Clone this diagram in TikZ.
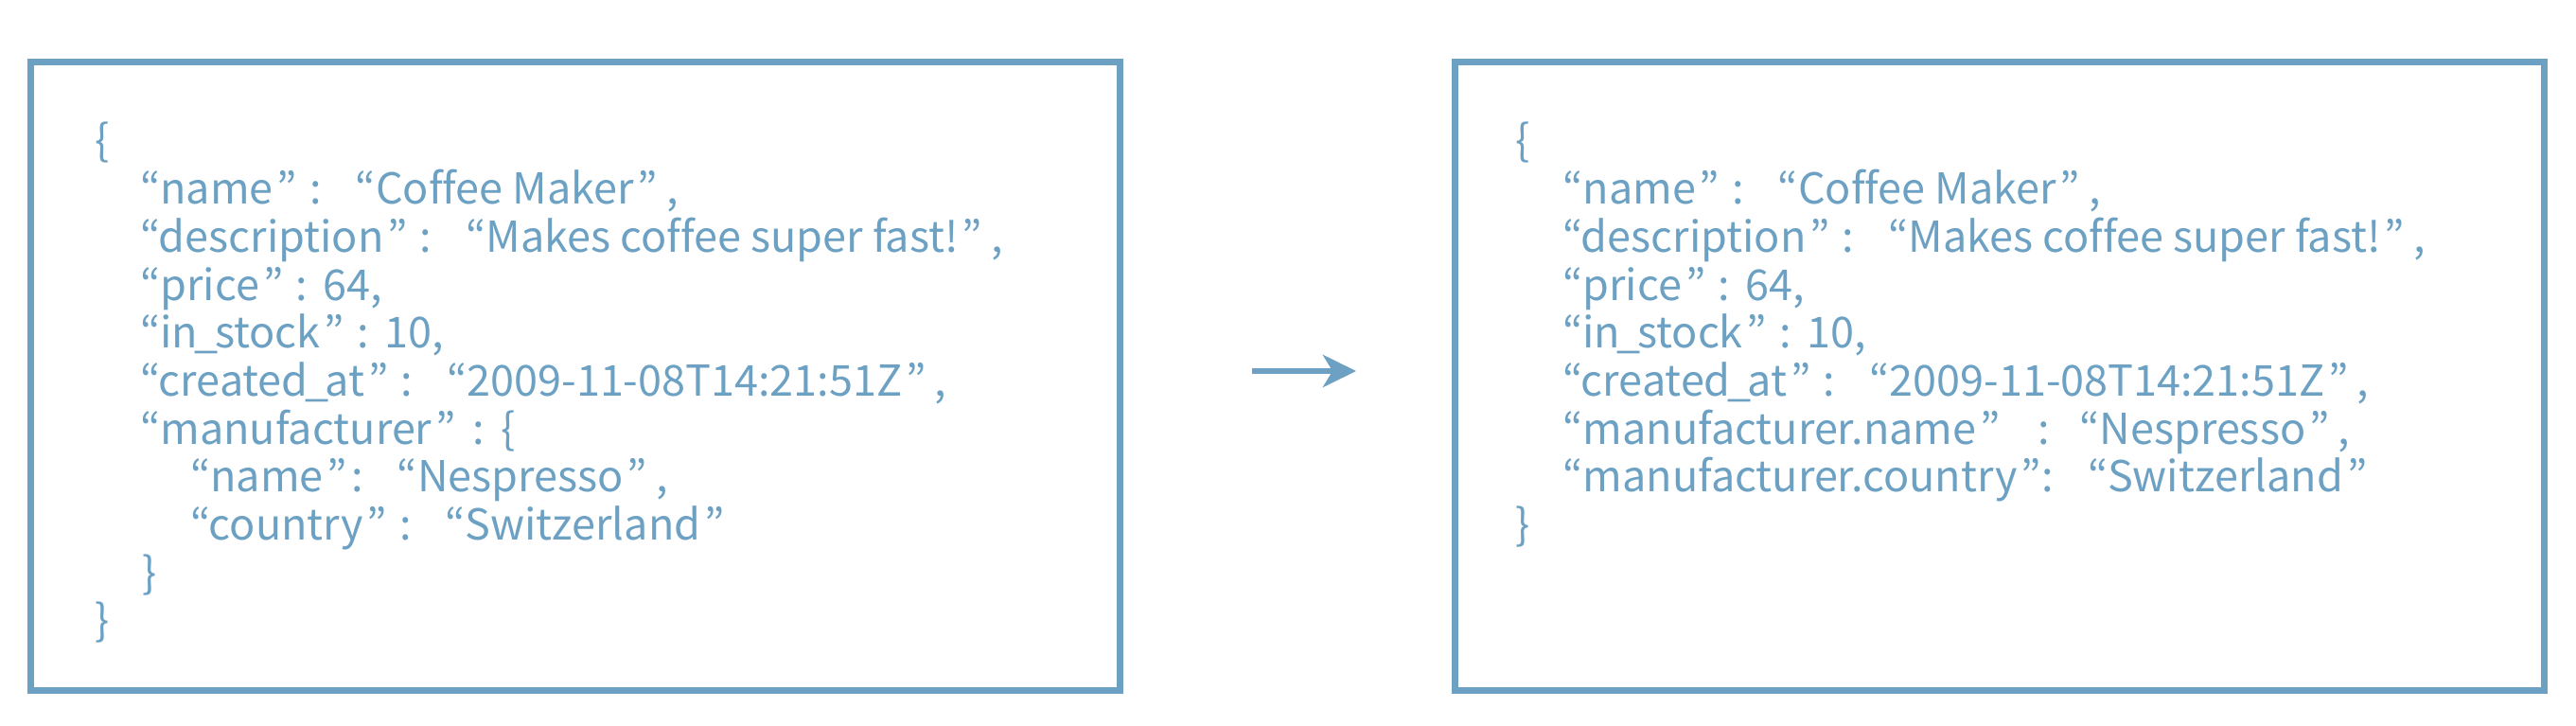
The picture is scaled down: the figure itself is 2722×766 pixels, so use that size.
\documentclass[tikz,border=0pt]{standalone}
\usepackage{fontspec}
\setmainfont{Noto Sans CJK JP}[Ligatures={TeX,NoCommon}]
\newcommand{\oq}{“}
\newcommand{\cq}{\hspace{4pt}”}
\newcommand{\col}{\hspace{13pt}:}
\newcommand{\sq}{\hspace{36pt}“}
\newcommand{\sv}{\hspace{17pt}}
\newcommand{\cm}{\hspace{9pt},}
\newcommand{\us}{\makebox[0.4em][c]{\_}}
\usetikzlibrary{arrows.meta}
\definecolor{jblue}{RGB}{108,161,195}
\begin{document}
\begin{tikzpicture}[x=1pt,y=-1pt,
  panel/.style={draw=jblue,line width=7pt,minimum width=1151pt,minimum height=664pt,inner sep=0pt,anchor=north west},
  code/.style={anchor=base west,inner sep=0pt,text=jblue,font=\fontsize{45}{50}\selectfont},
  flow/.style={draw=jblue,line width=6.7pt,-{Stealth[length=35pt,width=34pt,inset=10pt]}}]
\useasboundingbox (0,0) rectangle (2722,766);
\node[panel] (L) at (28.5,61.7) {};
\node[panel] (R) at (1533.5,61.7) {};
% left box
\def\xa{100}\def\xb{148}\def\xc{201}
\node[code] (l1) at (\xa,164) {\{};
\node[code] (l2) at (\xb,215) {\oq name\cq\col\sq Coffee Maker\cq\cm};
\node[code] (l3) at (\xb,266) {\oq description\cq\col\sq Makes coffee super fast!\cq\cm};
\node[code] (l4) at (\xb,317) {\oq price\cq\col\sv64,};
\node[code] (l5) at (\xb,367) {\oq in\us stock\cq\col\sv10,};
\node[code] (l6) at (\xb,418) {\oq created\us at\cq\col\sq 2009-11-08T14:21:51Z\cq\cm};
\node[code] (l7) at (\xb,469) {\oq manufacturer\cq\hspace{18pt}:\sv\{};
\node[code] (l8) at (\xc,519) {\oq name\cq\hspace{4pt}:\sq Nespresso\cq\cm};
\node[code] (l9) at (\xc,570) {\oq country\cq\col\sq Switzerland\cq};
\node[code] (l10) at (150,621) {\}};
\node[code] (l11) at (\xa,671) {\}};
% right box
\def\xd{1601}\def\xe{1651}
\node[code] (r1) at (\xd,164) {\{};
\node[code] (r2) at (\xe,215) {\oq name\cq\col\sq Coffee Maker\cq\cm};
\node[code] (r3) at (\xe,266) {\oq description\cq\col\sq Makes coffee super fast!\cq\cm};
\node[code] (r4) at (\xe,317) {\oq price\cq\col\sv64,};
\node[code] (r5) at (\xe,367) {\oq in\us stock\cq\col\sv10,};
\node[code] (r6) at (\xe,418) {\oq created\us at\cq\col\sq 2009-11-08T14:21:51Z\cq\cm};
\node[code] (r7) at (\xe,469) {\oq manufacturer.name\cq\hspace{40pt}:\hspace{31pt}“Nespresso\cq\cm};
\node[code] (r8) at (\xe,519) {\oq manufacturer.country\cq\hspace{1pt}:\sq Switzerland\cq};
\node[code] (r9) at (\xd,570) {\}};
% arrow
\coordinate (a1) at (1323,392);
\coordinate (a2) at (1433,392);
\draw[flow] (a1) -- (a2);
\end{tikzpicture}
\end{document}
